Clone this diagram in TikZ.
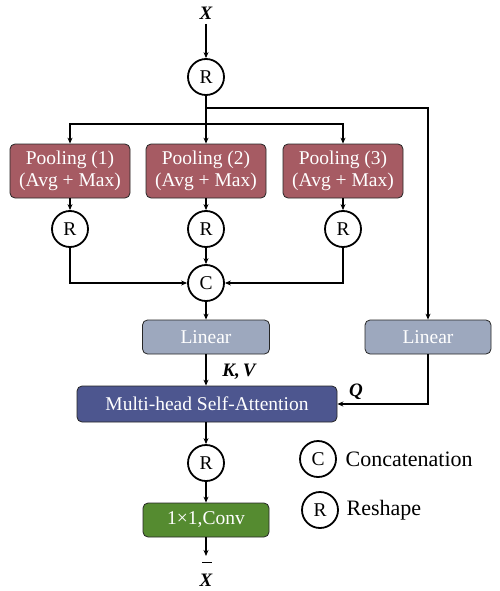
\documentclass[tikz,border=0pt]{standalone}
\usepackage{fontspec}
\setmainfont{Liberation Serif}
\usetikzlibrary{arrows.meta}
\definecolor{poolc}{HTML}{A65B63}
\definecolor{linc}{HTML}{9DA8BE}
\definecolor{mhsac}{HTML}{4D568F}
\definecolor{convc}{HTML}{558B30}
\newcommand\barX{\setbox0\hbox{\bfseries\itshape X}\vbox{\hbox to \wd0{\hskip 0.2\wd0\vrule width 0.75\wd0 height 1.4pt\hss}\kern 2.5pt\box0}}
\begin{document}
\begin{tikzpicture}[x=1pt,y=-1pt,
  line width=1.2pt,
  arr/.style={-{Stealth[length=6pt,width=5pt]}},
  box/.style={draw=black!85,line width=0.8pt,rounded corners=5pt,text=white,
    font=\fontsize{19.5}{22.5}\selectfont,inner sep=0pt,align=center},
  circ/.style={circle,draw,line width=1.8pt,minimum size=36pt,inner sep=0pt,
    font=\fontsize{19.5}{21}\selectfont},
  lab/.style={font=\fontsize{19}{21}\selectfont\bfseries\itshape,inner sep=0pt},
  leg/.style={font=\fontsize{22}{24}\selectfont,anchor=west,inner sep=0pt}
]
\useasboundingbox (0,0) rectangle (499,591);

\node[lab] (x) at (206,13) {X};
\node[circ] (r0) at (206,77) {R};
\coordinate (b1) at (206,108);
\coordinate (b2) at (206,124);

\node[box,fill=poolc,minimum width=120pt,minimum height=54pt] (p1) at (70,171) {Pooling (1)\\(Avg + Max)};
\node[box,fill=poolc,minimum width=120pt,minimum height=54pt] (p2) at (206,171) {Pooling (2)\\(Avg + Max)};
\node[box,fill=poolc,minimum width=120pt,minimum height=54pt] (p3) at (343,171) {Pooling (3)\\(Avg + Max)};

\node[circ] (r1) at (70,229) {R};
\node[circ] (r2) at (206,229) {R};
\node[circ] (r3) at (343,229) {R};
\node[circ] (c) at (206,283) {C};

\node[box,fill=linc,minimum width=127pt,minimum height=34pt] (lin1) at (206,337) {Linear};
\node[box,fill=linc,minimum width=126pt,minimum height=34pt] (lin2) at (428,337) {Linear};

\node[box,fill=mhsac,minimum width=260pt,minimum height=36pt] (mhsa) at (207,404) {Multi-head Self-Attention};

\node[circ] (r4) at (206,463) {R};
\node[box,fill=convc,minimum width=126pt,minimum height=34pt] (conv) at (206,520) {1\texttimes1,Conv};
\node[lab,inner sep=5pt] (xbar) at (206,574) {\barX};

% legend
\node[circ] (lc) at (318,459) {C};
\node[leg] (lct) at (345,459) {Concatenation};
\node[circ] (lr) at (320,510) {R};
\node[leg] (lrt) at (346,510) {Reshape};

% connectors
\draw[arr,shorten <=4pt] (x) -- (r0);
\draw (r0) -- (b2);
\draw[arr] (b1) -| (lin2.north);
\draw[arr] (b2) -| (p1.north);
\draw[arr] (b2) -| (p3.north);
\draw[arr] (b2) -- (p2.north);
\draw[arr] (p1) -- (r1);
\draw[arr] (p2) -- (r2);
\draw[arr] (p3) -- (r3);
\draw[arr] (r1) |- (c);
\draw[arr] (r3) |- (c);
\draw[arr] (r2) -- (c);
\draw[arr] (c) -- (lin1);
\draw[arr] (lin1) -- (mhsa.north -| lin1);
\node[lab] (kv) at (239,372) {K,\,V};
\draw[arr] (lin2.south) |- (mhsa.east);
\node[lab] (q) at (356,392) {Q};
\draw[arr] (mhsa.south -| r4) -- (r4);
\draw[arr] (r4) -- (conv);
\draw[arr] (conv) -- (xbar);
\end{tikzpicture}
\end{document}
